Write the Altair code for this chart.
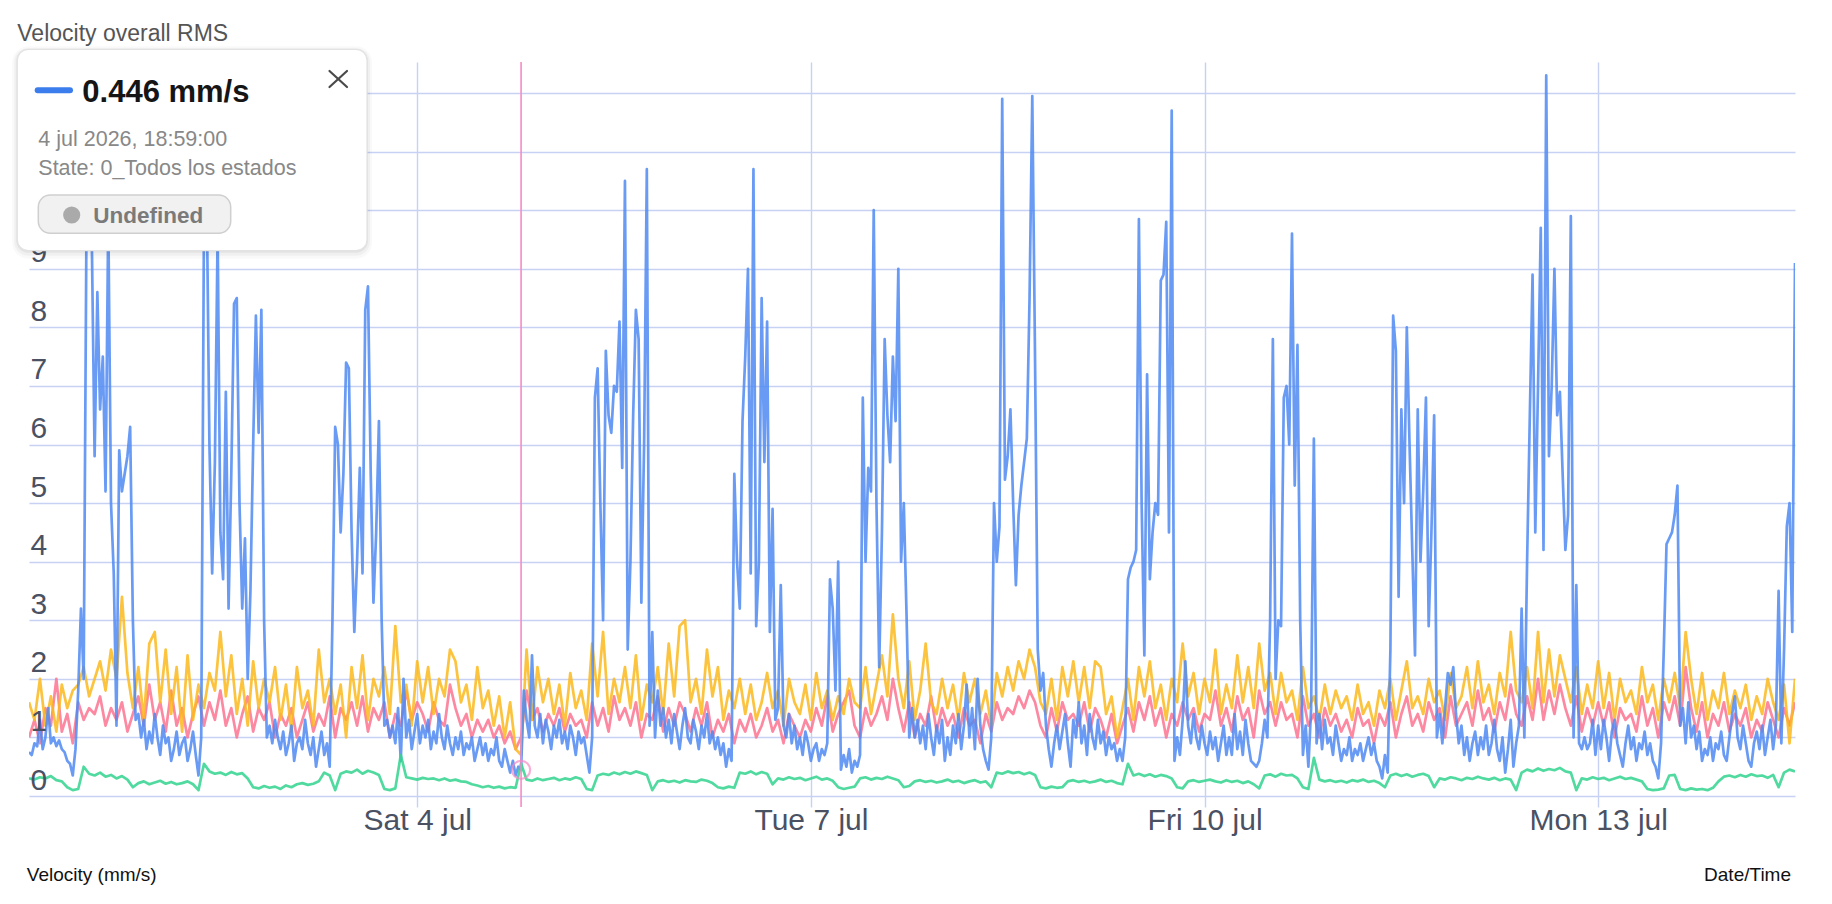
import altair as alt
import pandas as pd

# ---------------- data ----------------
START = "2026-07-01 00:59"
CURSOR_TIME = "2026-07-04T18:59:00"
CURSOR_VALUE = 0.446

# blue series, 30-minute samples
BLUE = [
    0.75, 0.7, 0.9, 0.85, 1.3, 0.8, 1.0, 1.5, 0.9, 1.0, 0.85, 0.95, 0.8, 0.75, 0.6, 0.55, 0.35, 0.8,
    1.8, 3.2, 2.0, 9.6, 10.3, 9.4, 5.8, 8.6, 6.6, 7.5, 5.2, 9.9, 5.0, 3.8, 1.2, 5.9, 5.2, 5.5, 5.8, 6.3, 3.0, 1.3,
    1.4, 1.0, 1.3, 0.8, 1.1, 0.9, 1.4, 1.0, 0.7, 1.2, 0.9, 1.0, 0.6, 0.8, 1.1, 0.7, 0.9, 1.0, 0.6, 0.8, 1.1, 0.7, 0.35, 1.0,
    9.8, 10.3, 6.0, 3.8, 5.7, 9.6, 4.5, 3.7, 6.9, 3.2, 5.5, 8.4, 8.5, 5.0, 3.2, 4.4, 2.0, 3.5, 6.0, 8.2, 6.2, 8.3, 3.0, 1.0,
    1.2, 0.9, 1.3, 1.0, 0.8, 1.1, 0.7, 0.9, 1.2, 0.6, 0.9, 1.0, 0.8, 1.3, 0.9, 0.7, 1.0, 0.5, 0.8, 1.1, 0.7, 0.9, 0.5,
    3.0, 6.3, 6.0, 4.5, 5.5, 7.4, 7.3, 4.5, 2.8, 4.0, 5.6, 3.8, 8.3, 8.7, 5.5, 3.3, 4.5, 6.4, 3.0, 1.2,
    1.3, 1.0, 1.2, 0.9, 1.5, 0.6, 2.0, 1.0, 1.3, 0.8,
    1.1, 1.4, 0.9, 1.2, 1.0, 1.3, 0.8, 1.1, 0.9, 1.4,
    1.0, 0.8, 1.2, 0.9, 0.7, 1.0, 0.8, 1.1, 0.7, 0.9,
    0.8, 1.0, 0.6, 0.8, 1.0, 0.7, 0.9, 0.6, 0.8, 0.7,
    1.0, 0.6, 0.5, 0.8, 0.6, 0.4, 0.6, 0.35, 0.5, 0.446,
    1.8, 1.3, 1.0, 2.4, 1.2, 1.0, 1.4, 0.9, 1.3, 1.1,
    0.8, 1.2, 1.0, 1.3, 0.9, 1.1, 0.8, 1.2, 1.0, 0.7,
    1.1, 0.9, 1.0, 0.7, 0.4, 1.0,
    6.8, 7.3, 5.0, 3.0, 7.6, 6.5, 6.2, 7.0, 6.9, 8.1, 5.6, 10.5, 2.5, 4.0, 6.5, 8.3, 7.8, 3.3, 6.0, 10.7, 1.2, 2.8, 1.0,
    1.8, 1.2, 1.5, 1.0, 1.3, 0.9, 1.4, 1.1, 0.8, 1.2, 1.5, 1.0, 0.9, 1.3, 1.1, 0.8, 1.2, 1.0, 1.4, 0.9, 1.1, 0.8, 1.0, 0.7, 0.9, 0.5, 0.8, 0.6,
    5.5, 4.0, 3.2, 6.4, 7.5, 9.0, 3.8, 10.7, 2.9, 4.0, 8.5, 5.7, 8.1, 2.8, 4.9, 1.3, 1.5, 3.6, 1.2,
    1.0, 1.4, 0.9, 1.2, 0.8, 1.0, 0.7, 1.1, 0.9, 0.6, 0.8, 0.9, 0.6, 0.8, 0.7, 0.9,
    3.7, 3.2, 1.8, 4.0, 0.45, 0.7, 0.5, 0.8, 0.4, 0.6, 0.5, 0.7,
    6.8, 4.0, 5.6, 5.2, 10.0, 5.0, 2.2, 4.5, 7.8, 6.5, 5.7, 7.5, 6.4, 9.0, 4.0, 5.0, 3.1, 1.0,
    1.5, 1.0, 1.3, 0.9, 1.2, 0.8, 1.4, 1.0, 0.7, 1.2, 0.9, 1.3, 0.6, 1.0, 0.7, 1.2, 0.9, 1.4, 0.8, 1.2, 1.9, 1.0, 1.5, 0.8, 2.0, 1.2, 0.8, 0.6, 0.45,
    1.0, 5.0, 4.0, 4.6, 11.9, 5.4, 5.8, 6.6, 5.0, 3.6, 4.8, 5.3, 5.7, 6.1, 8.5, 11.95, 7.5, 2.5, 1.8, 2.1,
    1.2, 0.8, 0.5, 0.9, 1.2, 0.8, 1.1, 1.4, 0.9, 0.5, 1.3, 1.0, 1.6, 0.9, 1.2, 0.7, 1.4, 1.0, 0.8, 1.3, 0.9, 1.1, 0.7, 1.0, 0.8, 0.9, 0.6, 0.8, 0.6,
    1.0, 3.7, 3.9, 4.0, 4.2, 9.85, 5.0, 2.4, 7.2, 3.7, 4.5, 5.0, 4.8, 8.8, 8.9, 9.8, 4.5, 11.7, 0.6,
    1.0, 0.7, 1.3, 2.3, 1.2, 0.9, 1.4, 1.0, 0.8, 1.2, 0.9, 0.7, 1.1, 0.8, 1.0, 0.6, 0.9, 1.2, 0.7, 1.0, 0.7, 1.4, 0.8, 1.1, 0.7, 1.3, 0.9, 0.6, 0.55, 0.5, 0.6, 0.9, 1.3, 1.0,
    3.0, 7.8, 2.0, 3.0, 2.9, 6.8, 7.0, 6.0, 9.6, 5.3, 7.7, 3.0, 0.7, 1.2, 0.5, 1.5, 6.1, 0.9,
    1.4, 0.8, 1.3, 0.9, 1.0, 0.7, 1.2, 0.9, 0.6, 0.8, 0.7, 1.0, 0.6, 0.8, 0.7, 0.9, 0.6, 0.8, 1.0, 0.7, 0.9, 0.6, 0.5, 0.3, 0.7, 0.4,
    2.5, 8.2, 7.6, 3.4, 6.6, 5.0, 8.0, 6.0, 4.2, 2.4, 6.6, 4.0, 5.2, 6.8, 2.9, 4.5, 6.5, 1.0,
    1.4, 0.9, 1.5, 2.1, 1.9, 2.2, 1.4, 0.9, 1.2, 0.7, 1.0, 0.6, 0.9, 1.1, 0.7, 1.0, 0.8, 1.2, 0.7, 0.9, 1.3, 0.8, 0.6, 1.0, 0.4, 0.8, 1.3, 0.5, 0.9,
    1.2, 3.2, 1.0, 4.0, 6.5, 8.9, 4.5, 7.0, 9.7, 4.2, 12.3, 5.8, 7.0, 9.0, 6.5, 6.9, 5.5, 4.2, 4.8, 9.9, 1.0, 3.6, 0.9,
    0.8, 1.0, 0.8, 0.9, 1.3, 0.7, 1.2, 0.8, 1.3, 1.0, 0.6, 1.1, 1.3, 0.9, 0.7, 0.5, 0.9, 1.2, 0.8, 1.0, 0.6, 0.9, 0.8, 1.1, 0.7, 0.9, 0.6, 0.5, 0.3, 0.9,
    2.5, 4.3, 4.4, 4.5, 4.8, 5.3, 1.2,
    1.5, 0.9, 1.6, 1.0, 1.2, 0.8, 1.1, 0.6, 0.8, 0.7, 1.0, 0.6, 0.9, 0.8, 1.1, 0.7, 0.6, 1.0, 1.4, 1.7, 1.0, 0.8, 1.2, 0.9, 0.6, 0.5, 0.9, 1.1, 0.8, 1.2, 0.7, 1.0, 1.3, 0.8, 1.2,
    3.5, 0.9, 2.5, 4.6, 5.0, 2.8, 9.1,
]

# orange series, hourly samples
ORANGE = [
    1.6, 1.3, 2.0, 1.2, 1.7, 1.1, 1.9, 1.5, 1.8, 1.9, 2.2, 1.7,
    2.0, 2.3, 1.8, 2.5, 2.0, 3.4, 2.1, 1.5, 2.2, 1.3, 2.6, 2.8,
    1.6, 2.5, 1.4, 2.2, 1.1, 2.4, 1.3, 1.9, 1.5, 2.1, 1.8, 2.8,
    1.7, 2.4, 1.4, 2.0, 1.2, 2.3, 1.5, 2.0, 1.6, 2.2, 1.3, 1.9,
    1.1, 2.2, 1.5, 1.8, 1.2, 2.5, 1.6, 2.0, 1.4, 1.9, 1.0, 2.2,
    1.5, 2.4, 1.3, 2.0, 1.7, 2.2, 1.4, 2.9, 1.6, 1.9, 1.2, 2.3,
    1.6, 2.2, 1.4, 2.0, 1.7, 2.5, 2.3, 1.6, 1.9, 1.3, 2.2, 1.5,
    1.8, 1.2, 1.7, 1.0, 1.6, 0.8, 0.7, 2.5, 1.3, 2.2, 1.6, 2.0,
    1.4, 1.9, 1.2, 2.1, 1.5, 1.8, 1.3, 2.6, 1.7, 2.8, 1.4, 2.0,
    1.6, 2.2, 1.5, 2.4, 1.3, 1.9, 1.6, 2.2, 1.4, 2.6, 1.7, 2.9,
    3.0, 1.6, 2.0, 1.4, 2.5, 1.7, 2.2, 1.3, 1.8, 1.5, 2.0, 1.4,
    1.9, 1.3, 1.6, 2.1, 1.5, 1.8, 1.2, 2.0, 1.6, 1.4, 1.9, 1.3,
    2.1, 1.5, 1.8, 1.3, 1.7, 1.4, 2.0, 1.6, 1.5, 2.2, 1.4, 1.9,
    2.4, 1.7, 3.1, 2.0, 1.5, 2.3, 1.3, 1.8, 2.6, 1.6, 1.4, 2.0,
    1.5, 1.9, 1.3, 2.1, 1.6, 2.0, 1.4, 1.8, 1.2, 2.1, 1.7, 2.2,
    1.8, 2.3, 2.0, 2.5, 2.2, 1.6, 1.4, 2.0, 1.3, 2.2, 1.7, 2.3,
    1.6, 2.2, 1.5, 2.3, 2.2, 1.4, 1.7, 1.0, 1.5, 2.0, 1.3, 2.2,
    1.7, 2.3, 1.5, 1.9, 1.3, 2.0, 1.6, 2.6, 1.7, 2.1, 1.4, 2.0,
    1.6, 2.5, 1.4, 1.9, 1.5, 2.4, 1.6, 2.2, 1.5, 2.6, 1.8, 2.1,
    1.4, 2.1, 1.6, 1.8, 1.3, 2.2, 1.5, 1.7, 1.3, 1.9, 1.4, 1.8,
    1.5, 1.7, 1.3, 1.9, 1.4, 1.6, 1.2, 1.8, 1.5, 2.0, 1.3, 1.8,
    2.3, 1.5, 1.7, 1.4, 2.0, 1.6, 1.8, 1.3, 2.1, 1.5, 1.7, 2.2,
    1.5, 2.3, 1.6, 1.9, 1.4, 2.1, 1.7, 2.8, 1.8, 1.6, 2.2, 1.5,
    2.8, 1.6, 2.5, 1.7, 2.4, 2.0, 1.6, 2.2, 1.4, 1.9, 1.5, 2.3,
    1.5, 2.1, 1.3, 2.0, 1.6, 1.8, 1.4, 2.2, 1.6, 1.9, 1.3, 2.0,
    1.6, 2.1, 1.5, 2.8, 2.0, 1.4, 2.1, 1.3, 1.8, 1.5, 2.1, 1.4,
    1.8, 1.5, 1.9, 1.3, 1.7, 1.4, 2.0, 1.6, 1.3, 1.9, 0.9, 2.0,
]

# pink/red series, hourly samples
RED = [
    1.0, 1.3, 0.9, 1.5, 1.2, 2.0, 1.1, 1.4, 0.9, 1.6, 1.3, 1.5,
    1.4, 1.7, 1.2, 1.5, 1.3, 1.6, 1.1, 1.4, 1.7, 1.2, 1.9, 1.3,
    1.6, 1.1, 1.8, 1.2, 1.5, 1.0, 1.4, 1.7, 1.2, 1.6, 1.3, 1.8,
    1.2, 1.5, 1.0, 1.4, 1.7, 1.1, 1.5, 1.3, 1.6, 1.0, 1.4, 1.2,
    1.5, 1.0, 1.3, 1.6, 1.1, 1.4, 1.2, 1.7, 1.0, 1.5, 1.3, 1.6,
    1.2, 1.7, 1.1, 1.5, 1.3, 1.6, 1.0, 1.4, 1.2, 1.8, 1.3, 1.6,
    1.4, 1.1, 1.6, 1.3, 1.2, 1.9, 1.5, 1.2, 1.4, 1.0, 1.3, 1.1,
    1.3, 1.0, 1.2, 0.9, 1.1, 0.8, 1.0, 1.8, 1.3, 1.5, 1.1, 1.4,
    1.2, 1.5, 1.1, 1.4, 1.2, 1.3, 1.0, 1.6, 1.2, 1.5, 1.1, 1.7,
    1.3, 1.5, 1.2, 1.6, 1.0, 1.4, 1.3, 1.7, 1.1, 1.5, 1.2, 1.6,
    1.4, 1.1, 1.5, 1.2, 1.6, 1.0, 1.3, 1.1, 1.4, 0.9, 1.3, 1.1,
    1.4, 1.0, 1.2, 1.5, 1.1, 1.3, 0.9, 1.4, 1.2, 1.0, 1.3, 1.1,
    1.5, 1.2, 1.7, 1.1, 1.4, 1.6, 1.8, 1.2, 1.0, 1.5, 1.2, 1.4,
    1.7, 1.3, 2.0, 1.5, 1.1, 1.6, 1.0, 1.4, 1.2, 1.7, 1.1, 1.5,
    1.2, 1.4, 1.0, 1.5, 1.2, 1.3, 0.9, 1.4, 1.1, 1.6, 1.3, 1.5,
    1.4, 1.7, 1.5, 1.8, 1.6, 1.2, 1.0, 1.5, 1.1, 1.6, 1.3, 1.4,
    1.2, 1.6, 1.1, 1.5, 1.3, 1.0, 1.4, 0.9, 1.2, 1.5, 1.1, 1.6,
    1.3, 1.7, 1.2, 1.5, 1.0, 1.4, 1.2, 1.6, 1.3, 1.5, 1.1, 1.4,
    1.3, 1.8, 1.2, 1.5, 1.1, 1.7, 1.3, 1.5, 1.0, 1.8, 1.4, 1.6,
    1.2, 1.6, 1.3, 1.4, 1.0, 1.7, 1.2, 1.4, 1.0, 1.5, 1.2, 1.4,
    1.1, 1.3, 1.0, 1.5, 1.2, 1.3, 0.9, 1.4, 1.2, 1.6, 1.0, 1.4,
    1.7, 1.2, 1.4, 1.1, 1.6, 1.3, 1.5, 1.0, 1.7, 1.2, 1.4, 1.6,
    1.2, 1.8, 1.3, 1.5, 1.1, 1.6, 1.3, 1.9, 1.4, 1.2, 1.7, 1.3,
    2.0, 1.3, 1.8, 1.4, 1.9, 1.5, 1.2, 1.7, 1.1, 1.5, 1.2, 1.6,
    1.2, 1.6, 1.0, 1.5, 1.3, 1.4, 1.1, 1.7, 1.2, 1.5, 1.0, 1.6,
    1.3, 1.7, 1.2, 2.2, 1.5, 1.1, 1.6, 1.0, 1.4, 1.2, 1.6, 1.1,
    1.4, 1.2, 1.5, 1.0, 1.3, 1.1, 1.6, 1.3, 1.0, 1.5, 1.2, 1.6,
]

# green series, hourly samples
GREEN = [
    0.3, 0.28, 0.32, 0.3, 0.34, 0.27, 0.25, 0.15,
    0.1, 0.12,
    0.5,
    0.38, 0.35, 0.4, 0.33, 0.36, 0.3, 0.34, 0.28,
    0.15,
    0.22, 0.25, 0.2, 0.23, 0.26, 0.21, 0.24, 0.2, 0.22, 0.25, 0.2,
    0.1,
    0.55,
    0.42, 0.38, 0.4, 0.36, 0.41, 0.37, 0.39, 0.3,
    0.15, 0.13, 0.17, 0.14, 0.16, 0.12, 0.18, 0.15,
    0.2, 0.22, 0.19, 0.21, 0.25,
    0.4, 0.35,
    0.1,
    0.38, 0.42, 0.4, 0.45, 0.38, 0.43, 0.4, 0.36,
    0.12, 0.1, 0.13,
    0.7,
    0.32, 0.3, 0.28, 0.31, 0.29, 0.3, 0.27, 0.3, 0.26, 0.28, 0.25, 0.24,
    0.2, 0.18, 0.15, 0.17, 0.14, 0.16, 0.13, 0.15, 0.14,
    0.55,
    0.28, 0.26, 0.3, 0.27, 0.29, 0.31, 0.27, 0.3, 0.28, 0.32, 0.29,
    0.12,
    0.1,
    0.35, 0.38, 0.36, 0.4, 0.37, 0.41, 0.38, 0.42, 0.39, 0.36,
    0.1,
    0.25, 0.27, 0.24, 0.26, 0.23, 0.27, 0.25, 0.24, 0.28, 0.26, 0.22,
    0.15, 0.13, 0.16, 0.14,
    0.4, 0.38, 0.42, 0.37, 0.41, 0.38,
    0.2,
    0.3, 0.28, 0.32, 0.29, 0.31, 0.27, 0.3, 0.33, 0.28, 0.3, 0.26,
    0.15, 0.12, 0.14, 0.16,
    0.3, 0.32, 0.28, 0.31, 0.29, 0.33, 0.3, 0.27,
    0.15, 0.17,
    0.25, 0.27, 0.24, 0.26, 0.23, 0.25, 0.28, 0.24, 0.26, 0.22, 0.25, 0.27, 0.23, 0.25,
    0.15,
    0.4, 0.38, 0.42, 0.39, 0.41, 0.37, 0.4, 0.36,
    0.15, 0.13, 0.16, 0.14, 0.15,
    0.25, 0.27, 0.24, 0.26, 0.23, 0.25, 0.28, 0.24, 0.26, 0.22, 0.2,
    0.55,
    0.35, 0.38, 0.34, 0.37, 0.33, 0.36, 0.34, 0.3,
    0.15, 0.13,
    0.25, 0.27, 0.24, 0.26, 0.28, 0.25, 0.23, 0.27, 0.24, 0.26, 0.22, 0.25, 0.2,
    0.13,
    0.35, 0.37, 0.33, 0.38, 0.35, 0.36, 0.3,
    0.15, 0.12,
    0.65,
    0.28, 0.25, 0.27, 0.24, 0.26, 0.23, 0.27, 0.25, 0.28, 0.24, 0.26, 0.22,
    0.15,
    0.35, 0.38, 0.34, 0.37, 0.33, 0.36, 0.38, 0.34,
    0.15,
    0.3, 0.28, 0.32, 0.3, 0.27, 0.31, 0.29, 0.33, 0.3, 0.28, 0.31, 0.27, 0.3, 0.28,
    0.1,
    0.4, 0.45, 0.42, 0.47, 0.43, 0.46, 0.44, 0.48, 0.42, 0.4,
    0.1,
    0.3, 0.28, 0.32, 0.29, 0.31, 0.27, 0.3, 0.33, 0.29, 0.31, 0.28, 0.25,
    0.12, 0.1, 0.11, 0.13,
    0.35, 0.36,
    0.12, 0.1, 0.13, 0.11, 0.12, 0.1, 0.14,
    0.25, 0.33,
    0.35, 0.32, 0.36, 0.33, 0.37, 0.34, 0.35, 0.31, 0.36,
    0.15,
    0.4, 0.45, 0.42,
]

Y_GRID = list(range(13))
Y_TICKS = list(range(10))          # 10-12 sit under the tooltip card
Y_LABELS = [str(v) for v in Y_TICKS]
X_TICK_DAYS = [4, 7, 10, 13]

TITLE = "Velocity overall RMS"
Y_TITLE = "Velocity (mm/s)"
X_TITLE = "Date/Time"
TIP_VALUE = "0.446 mm/s"
TIP_DATE = "4 jul 2026, 18:59:00"
TIP_STATE = "State: 0_Todos los estados"
TIP_BADGE = "Undefined"

# ---------------- styling ----------------
FONT = "Liberation Sans"
GRID = "#c7d1f4"
LABEL_COLOR = "#4a5162"
C_BLUE = "#4f8af2"
C_ORANGE = "#fbb81c"
C_RED = "#fd7390"
C_GREEN = "#33d38e"
PINK = "#f58cc4"

W, H = 1766, 734
Y_MAX = 12.53


def times(n, freq):
    return pd.date_range(START, periods=n, freq=freq).strftime("%Y-%m-%dT%H:%M:%S")


df_blue = pd.DataFrame({"t": times(len(BLUE), "30min"), "v": BLUE})
df_orange = pd.DataFrame({"t": times(len(ORANGE), "60min"), "v": ORANGE})
df_red = pd.DataFrame({"t": times(len(RED), "60min"), "v": RED})
df_green = pd.DataFrame({"t": times(len(GREEN), "60min"), "v": GREEN})
df_cursor = pd.DataFrame({"t": [CURSOR_TIME], "v": [CURSOR_VALUE]})
df_ylab = pd.DataFrame({"v": Y_TICKS, "lab": Y_LABELS})
ONE = pd.DataFrame({"k": [0]})

X_ENC = alt.X(
    "t:T",
    scale=alt.Scale(
        domain=[
            alt.DateTime(year=2026, month=7, date=1, hours=0, minutes=59),
            alt.DateTime(year=2026, month=7, date=14, hours=11, minutes=59),
        ],
        nice=False,
    ),
    axis=alt.Axis(
        values=[alt.DateTime(year=2026, month=7, date=d) for d in X_TICK_DAYS],
        labelExpr="timeFormat(datum.value, '%a %-d ') + lower(timeFormat(datum.value, '%b'))",
        title=None,
        grid=True,
        gridColor=GRID,
        gridWidth=1.4,
        domain=False,
        ticks=True,
        tickColor=GRID,
        tickWidth=1.4,
        tickSize=11,
        labelFont=FONT,
        labelFontSize=30,
        labelColor=LABEL_COLOR,
        labelPadding=22,
        labelBaseline="alphabetic",
        labelFlush=False,
        labelOverlap=False,
    ),
)
Y_ENC = alt.Y(
    "v:Q",
    scale=alt.Scale(domain=[0, Y_MAX], nice=False, zero=True),
    axis=alt.Axis(
        values=Y_GRID,
        labels=False,
        ticks=False,
        domain=False,
        grid=True,
        gridColor=GRID,
        gridWidth=1.4,
        title=None,
    ),
)


def line(df, color, width=2.7):
    return alt.Chart(df).mark_line(
        color=color, strokeWidth=width, opacity=0.85, strokeJoin="round", clip=True
    ).encode(x=X_ENC, y=Y_ENC)


def text(t, x, y, size, color, weight="normal", align="left"):
    return alt.Chart(ONE).mark_text(
        text=t, font=FONT, fontSize=size, fontWeight=weight, color=color,
        align=align, baseline="alphabetic",
    ).encode(x=alt.value(x), y=alt.value(y))


def box(x1, x2, y1, y2, radius, **kw):
    return alt.Chart(ONE).mark_rect(cornerRadius=radius, **kw).encode(
        x=alt.value(x1), x2=alt.value(x2), y=alt.value(y1), y2=alt.value(y2)
    )


def seg(x1, y1, x2, y2, color, width):
    return alt.Chart(ONE).mark_rule(color=color, strokeWidth=width, strokeCap="round").encode(
        x=alt.value(x1), x2=alt.value(x2), y=alt.value(y1), y2=alt.value(y2)
    )


lines = [
    line(df_red, C_RED),
    line(df_orange, C_ORANGE),
    line(df_blue, C_BLUE),
    line(df_green, C_GREEN),
]

ylabels = alt.Chart(df_ylab).mark_text(
    font=FONT, fontSize=30, color=LABEL_COLOR, align="left", baseline="alphabetic", dy=-6.5
).encode(x=alt.value(1.6), y=Y_ENC, text="lab:N")

cursor_rule = alt.Chart(df_cursor).mark_rule(color=PINK, strokeWidth=1.6).encode(
    x=X_ENC, y=alt.value(0), y2=alt.value(H + 11)
)
cursor_pt = alt.Chart(df_cursor).mark_point(
    shape="circle", size=330, color=PINK, strokeWidth=2.2, filled=False
).encode(x=X_ENC, y=Y_ENC)

# tooltip card (pixel coordinates relative to plot origin)
BX1, BX2, BY1, BY2 = -11.7, 338.0, -12.7, 188.7
tooltip = [
    box(BX1 - 5, BX2 + 5, BY1 - 3, BY2 + 8, 16, fill="#000000", opacity=0.025),
    box(BX1 - 3, BX2 + 3, BY1 - 1, BY2 + 5, 14, fill="#000000", opacity=0.035),
    box(BX1 - 1, BX2 + 1, BY1, BY2 + 2, 12, fill="#000000", opacity=0.05),
    box(BX1, BX2, BY1, BY2, 11, fill="#ffffff", stroke="#e3e3e3", strokeWidth=1.2),
    seg(8.7, 28.3, 41.0, 28.3, "#3b7ded", 6),
    text(TIP_VALUE, 53.3, 39.7, 31, "#151515", weight="bold"),
    seg(300.5, 9.0, 318.0, 25.0, "#4a4a4a", 2.2),
    seg(300.5, 25.0, 318.0, 9.0, "#4a4a4a", 2.2),
    text(TIP_DATE, 9.3, 83.7, 21.5, "#888888"),
    text(TIP_STATE, 9.3, 113.0, 21.5, "#888888"),
    box(9.3, 201.7, 133.0, 171.3, 12, fill="#f1f1f1", stroke="#cfcfcf", strokeWidth=1.5),
    alt.Chart(ONE).mark_circle(size=295, color="#aaaaaa", opacity=1).encode(
        x=alt.value(42.7), y=alt.value(153.0)
    ),
    text(TIP_BADGE, 64.3, 160.7, 22.5, "#7a7a7a", weight="bold"),
]

titles = [
    text(TITLE, -11.7, -21.3, 23, "#555555"),
    text(Y_TITLE, -2.2, 819, 19, "#111111"),
    text(X_TITLE, 1762, 819, 19, "#111111", align="right"),
]

chart = alt.layer(
    *lines, ylabels, cursor_rule, cursor_pt, *tooltip, *titles
).properties(
    width=W,
    height=H,
    padding={"left": 21, "top": 54, "right": 20, "bottom": 95},
    autosize=alt.AutoSizeParams(type="none"),
    background="#ffffff",
).configure_view(stroke=None)

chart.save("out.html", embed_options={"renderer": "svg", "actions": False})
